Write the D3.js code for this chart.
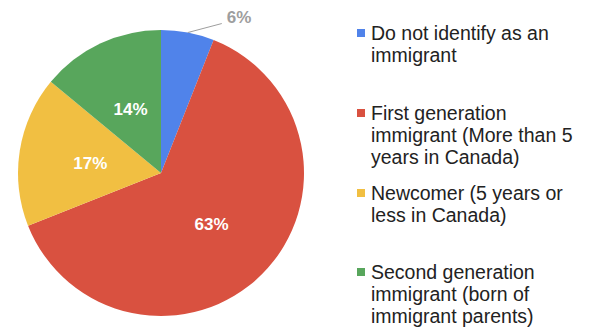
<!DOCTYPE html>
<html>
<head>
<meta charset="utf-8">
<script src="https://cdn.jsdelivr.net/npm/d3@7"></script>
<style>
  body { margin: 0; background: #fff; }
</style>
</head>
<body>
<div id="chart"></div>
<script>
// categories and values (percent)
var categories = [
    "Do not identify as an immigrant",
    "First generation immigrant (More than 5 years in Canada)",
    "Newcomer (5 years or less in Canada)",
    "Second generation immigrant (born of immigrant parents)"
];
var values = [6, 63, 17, 14];
var colors = ["#5083ea", "#d95140", "#f1bf42", "#58a65c"];
// legend text broken in lines as in the picture
var legendLines = [
    ["Do not identify as an", "immigrant"],
    ["First generation", "immigrant (More than 5", "years in Canada)"],
    ["Newcomer (5 years or", "less in Canada)"],
    ["Second generation", "immigrant (born of", "immigrant parents)"]
];
var legendTop = [40, 120, 200, 279]; // baseline of first line of each item

var width = 589, height = 329;
var cx = 161, cy = 173, radius = 143;

var svg = d3.select("#chart")
    .append("svg")
    .attr("width", width)
    .attr("height", height);

var data = categories.map(function (c, i) { return { name: c, value: values[i], color: colors[i] }; });

var pie = d3.pie()
    .value(function (d) { return d.value; })
    .sort(null);

var arc = d3.arc().innerRadius(0).outerRadius(radius);
var labelArc = d3.arc().innerRadius(radius * 0.5).outerRadius(radius * 0.5);

var g = svg.append("g")
    .attr("transform", "translate(" + cx + "," + cy + ")");

var arcs = pie(data);

g.selectAll("path")
    .data(arcs)
    .enter().append("path")
    .attr("d", arc)
    .attr("fill", function (d) { return d.data.color; });

// labels inside the big slices
g.selectAll("text.inside")
    .data(arcs.filter(function (d) { return d.data.value >= 10; }))
    .enter().append("text")
    .attr("class", "inside")
    .attr("transform", function (d) {
        var c = labelArc.centroid(d);
        return "translate(" + c[0] + "," + c[1] + ")";
    })
    .attr("text-anchor", "middle")
    .attr("dy", "0.4em")
    .attr("fill", "#fff")
    .attr("font-family", "Liberation Sans, Arial, sans-serif")
    .attr("font-weight", "bold")
    .attr("font-size", "17px")
    .text(function (d) { return d.data.value + "%"; });

// small slice: label outside with a leader line
arcs.filter(function (d) { return d.data.value < 10; }).forEach(function (d) {
    var mid = (d.startAngle + d.endAngle) / 2;
    var p0 = [Math.sin(mid) * radius, -Math.cos(mid) * radius];
    var p1 = [p0[0] + 34, p0[1] - 9];
    g.append("path")
        .attr("d", "M" + p0[0] + "," + p0[1] + "L" + p1[0] + "," + p1[1])
        .attr("stroke", "#9e9e9e")
        .attr("fill", "none")
        .attr("stroke-width", 1);
    g.append("text")
        .attr("x", p1[0] + 5)
        .attr("y", p1[1] - 0.5)
        .attr("fill", "#9e9e9e")
        .attr("font-family", "Liberation Sans, Arial, sans-serif")
        .attr("font-weight", "bold")
        .attr("font-size", "17px")
        .text(d.data.value + "%");
});

// legend
var legend = svg.selectAll(".legend")
    .data(data)
    .enter().append("g")
    .attr("class", "legend")
    .attr("transform", function (d, i) { return "translate(357," + legendTop[i] + ")"; });

legend.append("rect")
    .attr("y", -11)
    .attr("width", 8)
    .attr("height", 8)
    .attr("fill", function (d) { return d.color; });

legend.append("text")
    .attr("x", 14)
    .attr("fill", "#222")
    .attr("font-family", "Liberation Sans, Arial, sans-serif")
    .attr("font-size", "19.5px")
    .selectAll("tspan")
    .data(function (d, i) { return legendLines[i]; })
    .enter().append("tspan")
    .attr("x", 14)
    .attr("dy", function (d, i) { return i === 0 ? 0 : 22; })
    .text(function (d) { return d; });
</script>
</body>
</html>
